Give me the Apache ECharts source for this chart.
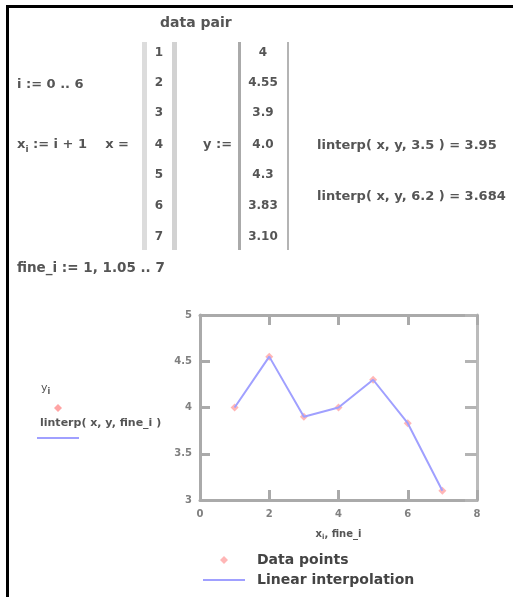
<!DOCTYPE html>
<html>
<head>
<meta charset="utf-8">
<script src="https://cdn.jsdelivr.net/npm/echarts@6/dist/echarts.min.js"></script>
<style>
  html, body { margin: 0; padding: 0; background: #fff; }
  #chart { width: 513px; height: 597px; }
</style>
</head>
<body>
<div id="chart"></div>
<script>
// data pair
const xValues = [1, 2, 3, 4, 5, 6, 7];
const yValues = [4, 4.55, 3.9, 4.0, 4.3, 3.83, 3.10];
// worksheet results
const interpQueries = ['3.5', '6.2'];
const interpResults = ['3.95', '3.684'];
// axis ticks
const xTicks = [0, 2, 4, 6, 8];
const yTicks = [3, 3.5, 4, 4.5, 5];

const FONT = '"DejaVu Sans", sans-serif';
const TXT = '#555';

const chart = echarts.init(document.getElementById('chart'), null, { renderer: 'canvas' });

function txt(x, y, text, opts) {
  opts = opts || {};
  const size = opts.size || 13;
  return {
    type: 'text', x: x, y: y, z: 10,
    style: {
      text: text,
      fill: opts.fill || TXT,
      font: (opts.weight || 'bold') + ' ' + size + 'px ' + FONT,
      align: opts.align || 'left',
      verticalAlign: 'middle',
      rich: {
        sub: { fontSize: Math.round(size * 0.7), fontWeight: 'bold', fontFamily: FONT,
               fill: opts.fill || TXT, padding: [Math.round(size * 0.75), 0, 0, 0] }
      }
    }
  };
}

const pairPairs = xValues.map((x, i) => [x, yValues[i]]);
const rowY = [53, 83, 113, 145, 175, 206, 237];

const graphics = [
  // page frame
  { type: 'rect', shape: { x: 6, y: 5, width: 513, height: 3 }, style: { fill: '#000' } },
  { type: 'rect', shape: { x: 6, y: 5, width: 3, height: 597 }, style: { fill: '#000' } },
  txt(160, 23, 'data pair', { size: 14 }),
  txt(17, 85, 'i := 0 .. 6'),
  txt(17, 145, 'x{sub|i} := i + 1    x ='),
  txt(203, 145, 'y :='),
  txt(17, 268, 'fine_i := 1, 1.05 .. 7', { size: 13.5 }),
  // matrix brackets
  { type: 'rect', shape: { x: 142, y: 42, width: 5, height: 208 }, style: { fill: '#dcdcdc' } },
  { type: 'rect', shape: { x: 172, y: 42, width: 5, height: 208 }, style: { fill: '#d2d2d2' } },
  { type: 'rect', shape: { x: 238, y: 42, width: 3, height: 208 }, style: { fill: '#aaaaaa' } },
  { type: 'rect', shape: { x: 287, y: 42, width: 2, height: 208 }, style: { fill: '#b4b4b4' } }
];
xValues.forEach((v, i) => graphics.push(txt(159, rowY[i], String(v), { align: 'center', size: 12 })));
yValues.forEach((v, i) => {
  const s = (i === 3) ? v.toFixed(1) : (i === 6 ? v.toFixed(2) : String(v));
  graphics.push(txt(263, rowY[i], s, { align: 'center', size: 12 }));
});
interpQueries.forEach((q, i) => {
  graphics.push(txt(317, 146 + i * 51, 'linterp( x, y, ' + q + ' ) = ' + interpResults[i]));
});
// trace key beside the plot
graphics.push(txt(41, 388, 'y{sub|i}', { weight: 'normal', size: 11 }));
graphics.push({ type: 'polygon', z: 10,
  shape: { points: [[58, 404], [62, 408], [58, 412], [54, 408]] }, style: { fill: '#ffa4a4' } });
graphics.push(txt(40, 423, 'linterp( x, y, fine_i )', { size: 11 }));
graphics.push({ type: 'rect', shape: { x: 37, y: 437, width: 42, height: 2 }, style: { fill: '#a0a0ff' } });

const axisLine = { show: true, onZero: false, lineStyle: { color: '#aaaaaa', width: 3 } };
const axisTick = { show: true, inside: true, length: 10, lineStyle: { color: '#aaaaaa', width: 3 } };
const tickLabel = { color: '#808080', fontSize: 10, fontFamily: FONT, fontWeight: 'bold' };

const option = {
  animation: false,
  backgroundColor: '#fff',
  grid: { left: 200, right: 36, top: 315, bottom: 97 },
  xAxis: [
    {
      type: 'value', position: 'bottom', min: xTicks[0], max: xTicks[xTicks.length - 1], interval: 2,
      axisLine: axisLine, axisTick: axisTick, splitLine: { show: false },
      axisLabel: Object.assign({ margin: 9 }, tickLabel),
      name: 'x{sub|i}, fine_i', nameLocation: 'middle', nameGap: 27,
      nameTextStyle: {
        color: '#555', fontSize: 10, fontWeight: 'bold', fontFamily: FONT,
        rich: { sub: { fontSize: 7, fontFamily: FONT, color: '#555', padding: [7, 0, 0, 0] } }
      }
    },
    {
      type: 'value', position: 'top', min: xTicks[0], max: xTicks[xTicks.length - 1], interval: 2,
      axisLine: axisLine, axisTick: axisTick, splitLine: { show: false }, axisLabel: { show: false }
    }
  ],
  yAxis: [
    {
      type: 'value', position: 'left', min: yTicks[0], max: yTicks[yTicks.length - 1], interval: 0.5,
      axisLine: axisLine, axisTick: axisTick, splitLine: { show: false },
      axisLabel: Object.assign({ margin: 8 }, tickLabel)
    },
    {
      type: 'value', position: 'right', min: yTicks[0], max: yTicks[yTicks.length - 1], interval: 0.5,
      axisLine: { show: true, onZero: false, lineStyle: { color: '#bbbbbb', width: 3 } },
      axisTick: { show: true, inside: true, length: 12, lineStyle: { color: '#b4b4b4', width: 3 } },
      splitLine: { show: false }, axisLabel: { show: false }
    }
  ],
  legend: {
    orient: 'vertical', left: 198, top: 548, itemWidth: 42, itemHeight: 8, itemGap: 6,
    symbolKeepAspect: true,
    textStyle: { color: '#444', fontSize: 14, fontWeight: 'bold', fontFamily: FONT, padding: [0, 0, 0, 7] },
    data: [
      { name: 'Data points', icon: 'path://M4,0L8,4L4,8L0,4Z' },
      { name: 'Linear interpolation', icon: 'path://M0,0H42V2H0Z' }
    ]
  },
  series: [
    {
      name: 'Linear interpolation', type: 'line', data: pairPairs, symbol: 'none',
      lineStyle: { color: '#a0a0ff', width: 2 }, itemStyle: { color: '#a0a0ff' }, z: 3
    },
    {
      name: 'Data points', type: 'scatter', data: pairPairs, symbol: 'diamond', symbolSize: 8,
      itemStyle: { color: '#ffa4a4' }, z: 2
    }
  ],
  graphic: graphics
};

chart.setOption(option);
</script>
</body>
</html>
